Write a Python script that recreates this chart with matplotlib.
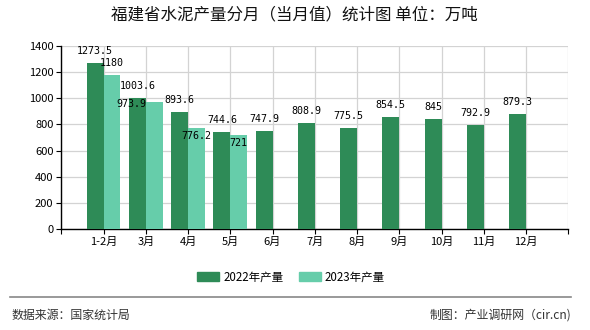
import matplotlib
matplotlib.use('Agg')
from matplotlib import pyplot as plt
from matplotlib.lines import Line2D
from matplotlib.patches import Patch

plt.rcParams['font.family'] = ['Noto Sans CJK SC', 'DejaVu Sans']

months = ['1-2月', '3月', '4月', '5月', '6月', '7月', '8月', '9月', '10月', '11月', '12月']
prod_2022 = [1273.5, 1003.6, 893.6, 744.6, 747.9, 808.9, 775.5, 854.5, 845, 792.9, 879.3]
prod_2023 = [1180, 973.9, 776.2, 721]
yticks = [0, 200, 400, 600, 800, 1000, 1200, 1400]

dark = '#2e8b57'
light = '#66cdaa'

# label nudges (pixels) where the original chart moved labels around
nudge_2023 = {1: (-23, -14), 2: (0, -20), 3: (0, -20)}


def fmt(v):
    return ('%g' % v)


fig = plt.figure(figsize=(5.9, 3.3), dpi=100)
ax = fig.add_axes([61.3 / 590, 1 - 229 / 330, (568.3 - 61.3) / 590, (229 - 46) / 330])

pos = list(range(1, len(months) + 1))
pos23 = pos[:len(prod_2023)]
b1 = ax.bar([p - 0.2 for p in pos], prod_2022, width=0.4, color=dark, zorder=3)
b2 = ax.bar([p + 0.2 for p in pos23], prod_2023, width=0.4, color=light, zorder=3)

for p, v in zip(pos, prod_2022):
    ax.annotate(fmt(v), (p - 0.2, v), xytext=(0, 12), textcoords='offset pixels',
                ha='center', va='center', fontsize=7.2, family='DejaVu Sans Mono', zorder=5)
for i, (p, v) in enumerate(zip(pos23, prod_2023)):
    dx, dy = nudge_2023.get(i, (0, 0))
    ax.annotate(fmt(v), (p + 0.2, v), xytext=(dx, 12 + dy), textcoords='offset pixels',
                ha='center', va='center', fontsize=7.2, family='DejaVu Sans Mono', zorder=5)

ax.set_xlim(0, 12)
ax.set_ylim(0, 1400)
ax.set_yticks(yticks)
ax.set_xticks(range(0, 13))
ax.set_xticklabels([''] + months + [''])
ax.tick_params(axis='both', labelsize=8, length=3.6, width=0.8, color='black')
ax.tick_params(axis='x', pad=2)
ax.tick_params(axis='y', pad=2)
ax.grid(True, color='#d3d3d3', linewidth=0.9, zorder=0)
ax.set_axisbelow(True)
for s in ['top', 'right']:
    ax.spines[s].set_visible(False)
ax.spines['left'].set_linewidth(1.0)
ax.spines['bottom'].set_linewidth(1.0)

fig.text(294.5 / 590, 1 - 15 / 330, '福建省水泥产量分月（当月值）统计图 单位：万吨',
         ha='center', va='center', fontsize=11.9, color='#111111')

handles = [Patch(color=dark), Patch(color=light)]
fig.legend(handles, ['2022年产量', '2023年产量'], ncol=2, frameon=False,
           loc='center', bbox_to_anchor=(291 / 590, 1 - 277 / 330),
           fontsize=8.3, handlelength=1.9, handleheight=0.75,
           handletextpad=0.37, columnspacing=1.35, borderpad=0)

fig.add_artist(Line2D([10 / 590, 571 / 590], [1 - 297.3 / 330, 1 - 297.3 / 330],
                      color='#888888', linewidth=1.2))
fig.text(11.7 / 590, 1 - 315 / 330, '数据来源：国家统计局', ha='left', va='center',
         fontsize=8.6, color='#333333')
fig.text(571 / 590, 1 - 315 / 330, '制图：产业调研网（cir.cn)', ha='right', va='center',
         fontsize=8.6, color='#333333')

fig.savefig('out.png', dpi=100)
